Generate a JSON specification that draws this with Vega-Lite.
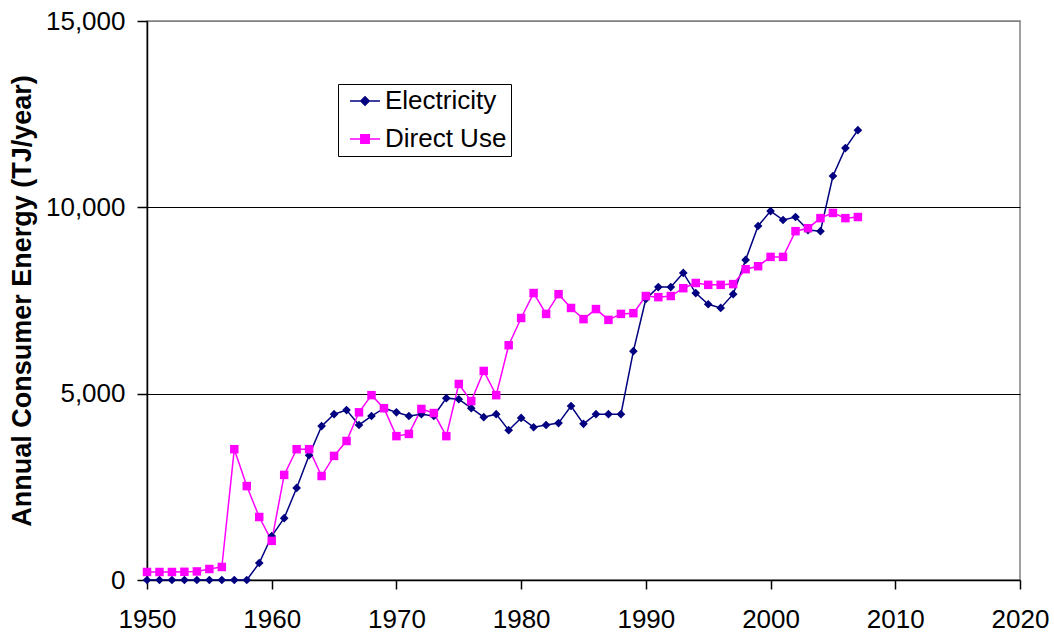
{
  "$schema": "https://vega.github.io/schema/vega-lite/v6.json",
  "width": 873,
  "height": 559,
  "autosize": {"type": "none"},
  "padding": {"left": 147, "top": 21, "right": 34, "bottom": 54},
  "background": "white",
  "config": {
    "font": "Liberation Sans",
    "view": {"stroke": "#808080", "strokeWidth": 1.5},
    "axis": {
      "domainColor": "black",
      "tickColor": "black",
      "labelColor": "black",
      "titleColor": "black",
      "labelFont": "Liberation Sans",
      "titleFont": "Liberation Sans",
      "labelFlush": false
    }
  },
  "data": {
    "values": [
      {"year": 1950, "series": "Electricity", "value": 0},
      {"year": 1951, "series": "Electricity", "value": 0},
      {"year": 1952, "series": "Electricity", "value": 0},
      {"year": 1953, "series": "Electricity", "value": 0},
      {"year": 1954, "series": "Electricity", "value": 0},
      {"year": 1955, "series": "Electricity", "value": 0},
      {"year": 1956, "series": "Electricity", "value": 0},
      {"year": 1957, "series": "Electricity", "value": 0},
      {"year": 1958, "series": "Electricity", "value": 0},
      {"year": 1959, "series": "Electricity", "value": 456},
      {"year": 1960, "series": "Electricity", "value": 1180},
      {"year": 1961, "series": "Electricity", "value": 1660},
      {"year": 1962, "series": "Electricity", "value": 2470},
      {"year": 1963, "series": "Electricity", "value": 3350},
      {"year": 1964, "series": "Electricity", "value": 4130},
      {"year": 1965, "series": "Electricity", "value": 4450},
      {"year": 1966, "series": "Electricity", "value": 4560},
      {"year": 1967, "series": "Electricity", "value": 4160},
      {"year": 1968, "series": "Electricity", "value": 4400},
      {"year": 1969, "series": "Electricity", "value": 4610},
      {"year": 1970, "series": "Electricity", "value": 4500},
      {"year": 1971, "series": "Electricity", "value": 4400},
      {"year": 1972, "series": "Electricity", "value": 4450},
      {"year": 1973, "series": "Electricity", "value": 4400},
      {"year": 1974, "series": "Electricity", "value": 4880},
      {"year": 1975, "series": "Electricity", "value": 4850},
      {"year": 1976, "series": "Electricity", "value": 4610},
      {"year": 1977, "series": "Electricity", "value": 4370},
      {"year": 1978, "series": "Electricity", "value": 4450},
      {"year": 1979, "series": "Electricity", "value": 4020},
      {"year": 1980, "series": "Electricity", "value": 4350},
      {"year": 1981, "series": "Electricity", "value": 4100},
      {"year": 1982, "series": "Electricity", "value": 4160},
      {"year": 1983, "series": "Electricity", "value": 4210},
      {"year": 1984, "series": "Electricity", "value": 4670},
      {"year": 1985, "series": "Electricity", "value": 4190},
      {"year": 1986, "series": "Electricity", "value": 4450},
      {"year": 1987, "series": "Electricity", "value": 4450},
      {"year": 1988, "series": "Electricity", "value": 4450},
      {"year": 1989, "series": "Electricity", "value": 6140},
      {"year": 1990, "series": "Electricity", "value": 7540},
      {"year": 1991, "series": "Electricity", "value": 7860},
      {"year": 1992, "series": "Electricity", "value": 7860},
      {"year": 1993, "series": "Electricity", "value": 8240},
      {"year": 1994, "series": "Electricity", "value": 7700},
      {"year": 1995, "series": "Electricity", "value": 7400},
      {"year": 1996, "series": "Electricity", "value": 7300},
      {"year": 1997, "series": "Electricity", "value": 7670},
      {"year": 1998, "series": "Electricity", "value": 8590},
      {"year": 1999, "series": "Electricity", "value": 9500},
      {"year": 2000, "series": "Electricity", "value": 9900},
      {"year": 2001, "series": "Electricity", "value": 9660},
      {"year": 2002, "series": "Electricity", "value": 9740},
      {"year": 2003, "series": "Electricity", "value": 9390},
      {"year": 2004, "series": "Electricity", "value": 9360},
      {"year": 2005, "series": "Electricity", "value": 10840},
      {"year": 2006, "series": "Electricity", "value": 11590},
      {"year": 2007, "series": "Electricity", "value": 12070},
      {"year": 1950, "series": "Direct Use", "value": 215},
      {"year": 1951, "series": "Direct Use", "value": 215},
      {"year": 1952, "series": "Direct Use", "value": 215},
      {"year": 1953, "series": "Direct Use", "value": 220},
      {"year": 1954, "series": "Direct Use", "value": 230},
      {"year": 1955, "series": "Direct Use", "value": 295},
      {"year": 1956, "series": "Direct Use", "value": 350},
      {"year": 1957, "series": "Direct Use", "value": 3510},
      {"year": 1958, "series": "Direct Use", "value": 2520},
      {"year": 1959, "series": "Direct Use", "value": 1690},
      {"year": 1960, "series": "Direct Use", "value": 1050},
      {"year": 1961, "series": "Direct Use", "value": 2820},
      {"year": 1962, "series": "Direct Use", "value": 3510},
      {"year": 1963, "series": "Direct Use", "value": 3510},
      {"year": 1964, "series": "Direct Use", "value": 2790},
      {"year": 1965, "series": "Direct Use", "value": 3330},
      {"year": 1966, "series": "Direct Use", "value": 3730},
      {"year": 1967, "series": "Direct Use", "value": 4500},
      {"year": 1968, "series": "Direct Use", "value": 4960},
      {"year": 1969, "series": "Direct Use", "value": 4610},
      {"year": 1970, "series": "Direct Use", "value": 3860},
      {"year": 1971, "series": "Direct Use", "value": 3920},
      {"year": 1972, "series": "Direct Use", "value": 4590},
      {"year": 1973, "series": "Direct Use", "value": 4480},
      {"year": 1974, "series": "Direct Use", "value": 3860},
      {"year": 1975, "series": "Direct Use", "value": 5260},
      {"year": 1976, "series": "Direct Use", "value": 4800},
      {"year": 1977, "series": "Direct Use", "value": 5610},
      {"year": 1978, "series": "Direct Use", "value": 4960},
      {"year": 1979, "series": "Direct Use", "value": 6300},
      {"year": 1980, "series": "Direct Use", "value": 7030},
      {"year": 1981, "series": "Direct Use", "value": 7700},
      {"year": 1982, "series": "Direct Use", "value": 7140},
      {"year": 1983, "series": "Direct Use", "value": 7670},
      {"year": 1984, "series": "Direct Use", "value": 7300},
      {"year": 1985, "series": "Direct Use", "value": 7000},
      {"year": 1986, "series": "Direct Use", "value": 7270},
      {"year": 1987, "series": "Direct Use", "value": 6980},
      {"year": 1988, "series": "Direct Use", "value": 7140},
      {"year": 1989, "series": "Direct Use", "value": 7160},
      {"year": 1990, "series": "Direct Use", "value": 7620},
      {"year": 1991, "series": "Direct Use", "value": 7590},
      {"year": 1992, "series": "Direct Use", "value": 7620},
      {"year": 1993, "series": "Direct Use", "value": 7830},
      {"year": 1994, "series": "Direct Use", "value": 7970},
      {"year": 1995, "series": "Direct Use", "value": 7920},
      {"year": 1996, "series": "Direct Use", "value": 7920},
      {"year": 1997, "series": "Direct Use", "value": 7940},
      {"year": 1998, "series": "Direct Use", "value": 8340},
      {"year": 1999, "series": "Direct Use", "value": 8420},
      {"year": 2000, "series": "Direct Use", "value": 8670},
      {"year": 2001, "series": "Direct Use", "value": 8670},
      {"year": 2002, "series": "Direct Use", "value": 9360},
      {"year": 2003, "series": "Direct Use", "value": 9440},
      {"year": 2004, "series": "Direct Use", "value": 9710},
      {"year": 2005, "series": "Direct Use", "value": 9850},
      {"year": 2006, "series": "Direct Use", "value": 9710},
      {"year": 2007, "series": "Direct Use", "value": 9740}
    ]
  },
  "encoding": {
    "x": {
      "field": "year",
      "type": "quantitative",
      "scale": {"domain": [1950, 2020], "nice": false, "zero": false},
      "axis": {
        "title": null,
        "values": [1950, 1960, 1970, 1980, 1990, 2000, 2010, 2020],
        "format": "d",
        "grid": false,
        "tickSize": 9,
        "labelFontSize": 26,
        "labelPadding": 17,
        "domainWidth": 1.5,
        "tickWidth": 1.5
      }
    },
    "y": {
      "field": "value",
      "type": "quantitative",
      "scale": {"domain": [0, 15000], "nice": false},
      "axis": {
        "title": "Annual Consumer Energy (TJ/year)",
        "values": [0, 5000, 10000, 15000],
        "format": ",d",
        "grid": true,
        "gridColor": {"condition": {"test": "datum.value >= 15000 || datum.value <= 0", "value": "#808080"}, "value": "black"},
        "gridWidth": 1,
        "gridOpacity": 1,
        "tickSize": 10,
        "labelFontSize": 26,
        "labelPadding": 12,
        "titleFontSize": 27,
        "titleFontWeight": "bold",
        "titlePadding": 9,
        "domainWidth": 1.5,
        "tickWidth": 1.5
      }
    },
    "color": {
      "field": "series",
      "type": "nominal",
      "scale": {"domain": ["Electricity", "Direct Use"], "range": ["#000080", "#FF00FF"]},
      "legend": {
        "title": null,
        "orient": "none",
        "legendX": 191,
        "legendY": 63,
        "padding": 4,
        "symbolOffset": 10,
        "strokeColor": "black",
        "fillColor": "white",
        "labelFontSize": 26,
        "labelColor": "black",
        "labelFont": "Liberation Sans",
        "symbolSize": 400,
        "symbolStrokeWidth": 1.5,
        "labelOffset": 7,
        "rowPadding": 12,
        "encode": {
          "symbols": {
            "update": {
              "shape": {"signal": "datum.value === 'Electricity' ? 'M-1.5,0H1.5M0,-0.42L0.42,0L0,0.42L-0.42,0Z' : 'M-1.5,0H1.5M-0.42,-0.42H0.42V0.42H-0.42Z'"},
              "stroke": {"signal": "datum.value === 'Electricity' ? '#000080' : '#FF00FF'"},
              "fill": {"signal": "datum.value === 'Electricity' ? '#000080' : '#FF00FF'"},
              "strokeWidth": {"value": 1.5},
              "opacity": {"value": 1}
            }
          }
        }
      }
    }
  },
  "layer": [
    {
      "mark": {"type": "line", "strokeWidth": 1.5},
      "encoding": {"detail": {"field": "series"}}
    },
    {
      "transform": [{"filter": "datum.series === 'Electricity'"}],
      "mark": {"type": "point", "filled": true, "opacity": 1, "shape": "diamond", "size": 75}
    },
    {
      "transform": [{"filter": "datum.series === 'Direct Use'"}],
      "mark": {"type": "point", "filled": true, "opacity": 1, "shape": "square", "size": 72}
    }
  ]
}
